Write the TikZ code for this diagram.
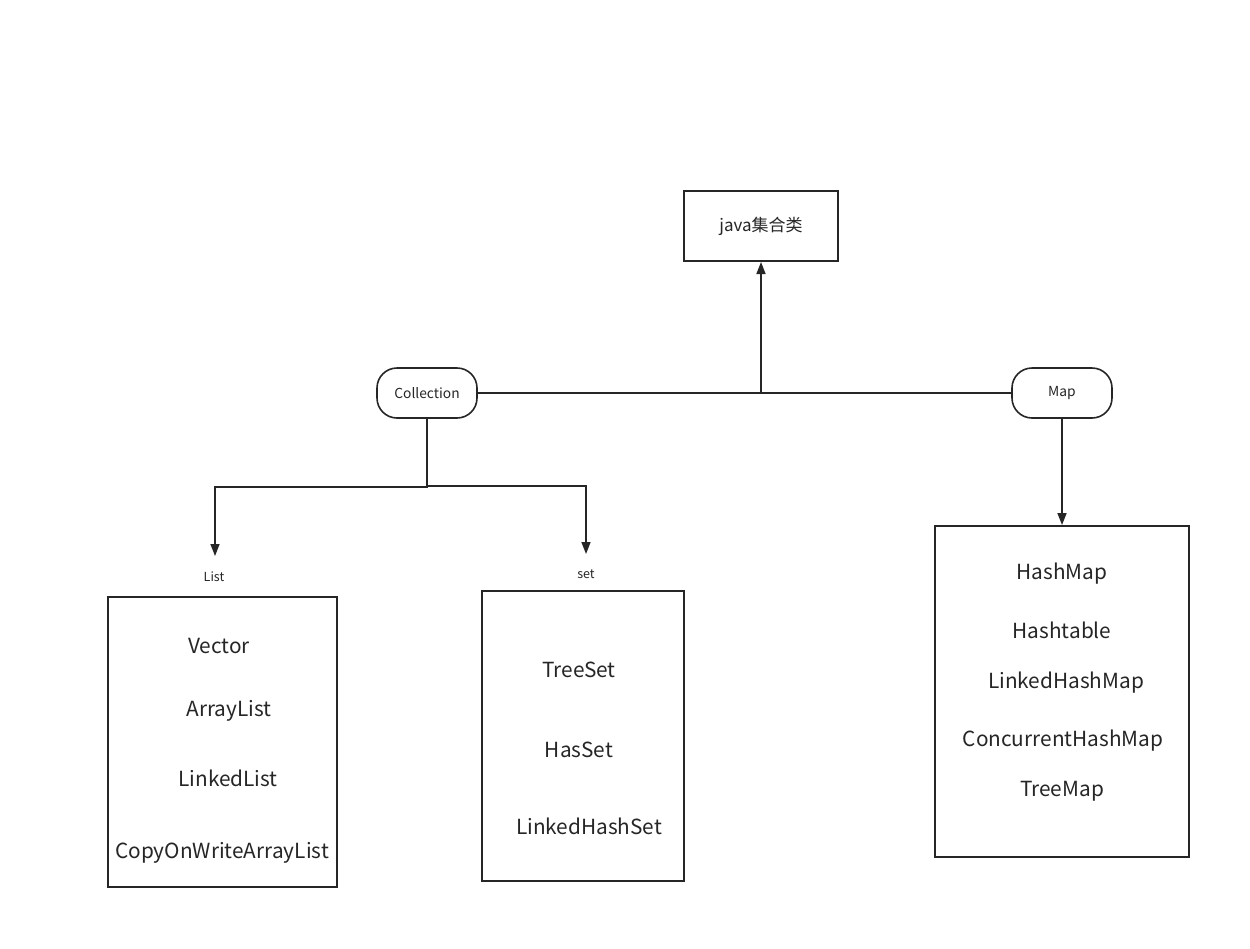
\documentclass[tikz,border=0pt]{standalone}
\usepackage{fontspec}
\setmainfont{Noto Sans CJK SC}
\usetikzlibrary{arrows.meta}
\begin{document}
\begin{tikzpicture}[x=1pt,y=-1pt,
  rbox/.style={draw=black!85,line width=1.6pt,rounded corners=20pt,minimum width=100pt,minimum height=50pt,font=\fontsize{13.8}{16}\selectfont,text=black!85},
  big/.style={font=\fontsize{20.8}{24}\selectfont,text=black!85,inner sep=0pt},
  small/.style={font=\fontsize{12.5}{14}\selectfont,text=black!85,inner sep=0pt},
  conn/.style={draw=black!85,line width=1.6pt},
  arr/.style={conn,-{Triangle[length=12pt,width=9pt]}}]
\useasboundingbox (0,0) rectangle (1250,948);
\fill[white] (0,0) rectangle (1250,948);
% top box
\node[draw=black!85,line width=2pt,minimum width=154pt,minimum height=70pt,font=\fontsize{17}{20}\selectfont,text=black!85] (java) at (761,226) {java集合类};
\node[rbox] (coll) at (427,393) {Collection};
\node[rbox] (map) at (1062,393) {Map};
% containers
\node[draw=black!85,line width=2pt,minimum width=229pt,minimum height=290pt] (listbox) at (222.5,742) {};
\node[draw=black!85,line width=2pt,minimum width=202pt,minimum height=290pt] (setbox) at (583,736) {};
\node[draw=black!85,line width=2pt,minimum width=254pt,minimum height=331pt] (mapbox) at (1062,691.5) {};
% labels
\node[small] (listlbl) at (214,577) {List};
\node[small] (setlbl) at (586,574) {set};
\coordinate (listtip) at (215,556);
\coordinate (settip) at (586,554);
\coordinate (mid) at (761,393);
% list items
\node[big] (v) at (219,646) {Vector};
\node[big] (al) at (229,711) {ArrayList};
\node[big] (ll) at (228,778) {LinkedList};
\node[big] (cow) at (222,853) {CopyOnWriteArrayList};
% set items
\node[big] (ts) at (579,670) {TreeSet};
\node[big] (hs) at (579,750) {HasSet};
\node[big] (lhs) at (589,826) {LinkedHashSet};
% map items
\node[big] (hm) at (1062,574) {HashMap};
\node[big] (ht) at (1062,630) {Hashtable};
\node[big] (lhm) at (1066,683) {LinkedHashMap};
\node[big] (chm) at (1063,741) {ConcurrentHashMap};
\node[big] (tm) at (1062,791) {TreeMap};
% connectors
\draw[conn] (coll.east) -- (map.west);
\draw[arr] (mid) -- (java.south);
\draw[arr] (coll.south) -- (427,487) -| (listtip);
\draw[arr] (coll.south) |- (586,486) -- (settip);
\draw[arr] (map.south) -- (mapbox.north);
\end{tikzpicture}
\end{document}
